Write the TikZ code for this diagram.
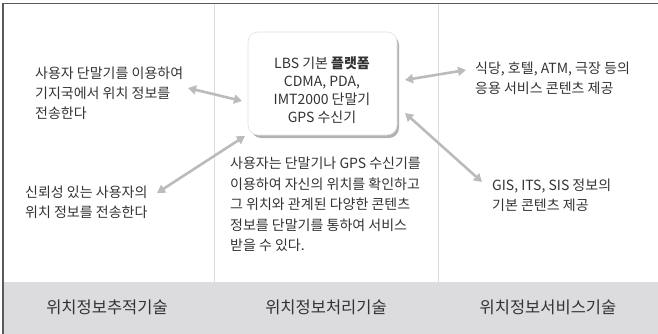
\documentclass[tikz,border=0pt]{standalone}
\usepackage{fontspec}
\setmainfont{Noto Sans CJK KR}
\usetikzlibrary{arrows.meta}
\definecolor{txtc}{HTML}{333333}
\definecolor{bandc}{HTML}{DCDCDF}
\definecolor{arrc}{HTML}{BBBBBB}
\definecolor{divc}{HTML}{DDDDDD}
\begin{document}
\begin{tikzpicture}[x=1pt,y=-1pt,
  txt/.style={font=\fontsize{14}{20}\selectfont, text=txtc, align=left, inner sep=0pt, anchor=north west},
  lbl/.style={font=\fontsize{16.5}{18}\selectfont, text=txtc, inner sep=0pt},
  arr/.style={draw=arrc, line width=2.6pt, {Triangle[width=9pt,length=8pt]}-{Triangle[width=9pt,length=8pt]}},
  platform/.style={draw=black!12, line width=0.6pt, fill=white, rounded corners=10pt, minimum width=149pt, minimum height=103pt, inner sep=0pt},
  boxtext/.style={align=center, font=\fontsize{14}{18}\selectfont, text=txtc, inner sep=0pt}]
\useasboundingbox (0,0) rectangle (658,334);
% bottom band
\fill[bandc] (3,282) rectangle (658,334);
% column dividers
\draw[divc, line width=0.8pt] (214,4) -- (214,334);
\draw[divc, line width=0.8pt] (438,4) -- (438,334);
% frame (top and left)
\draw[black!65, line width=1.6pt] (3,334) -- (3,3.5) -- (658,3.5);
% platform box with shadow
\fill[black!30, rounded corners=10pt] (251,35) rectangle (399,138);
\node[platform] (box) at (322.5,83.5) {};
\node[boxtext] (boxt) at (322,90) {LBS 기본 \textbf{플랫폼}\\CDMA, PDA,\\IMT2000 단말기\\GPS 수신기};
% texts
\node[txt] (t1) at (35,67) {사용자 단말기를 이용하여\\기지국에서 위치 정보를\\전송한다};
\node[txt] (t2) at (25,186) {신뢰성 있는 사용자의\\위치 정보를 전송한다};
\node[txt, font=\fontsize{14}{20.5}\selectfont] (t3) at (230,157) {사용자는 단말기나 GPS 수신기를\\이용하여 자신의 위치를 확인하고\\그 위치와 관계된 다양한 콘텐츠\\정보를 단말기를 통하여 서비스\\받을 수 있다.};
\node[txt] (t4) at (475,62) {식당, 호텔, ATM, 극장 등의\\응용 서비스 콘텐츠 제공};
\node[txt] (t5) at (492,179) {GIS, ITS, SIS 정보의\\기본 콘텐츠 제공};
% bottom labels
\node[lbl] (l1) at (107,307) {위치정보추적기술};
\node[lbl] (l2) at (326,307) {위치정보처리기술};
\node[lbl] (l3) at (548,307) {위치정보서비스기술};
% arrow end points
\coordinate (a1) at (188,88);
\coordinate (b1) at (242,101);
\coordinate (a2) at (245,136);
\coordinate (b2) at (157,193);
\coordinate (a3) at (405,80);
\coordinate (b3) at (466,70);
\coordinate (a4) at (405,113);
\coordinate (b4) at (482,182);
\draw[arr] (a1) -- (b1);
\draw[arr] (a2) -- (b2);
\draw[arr] (a3) -- (b3);
\draw[arr] (a4) -- (b4);
\end{tikzpicture}
\end{document}
